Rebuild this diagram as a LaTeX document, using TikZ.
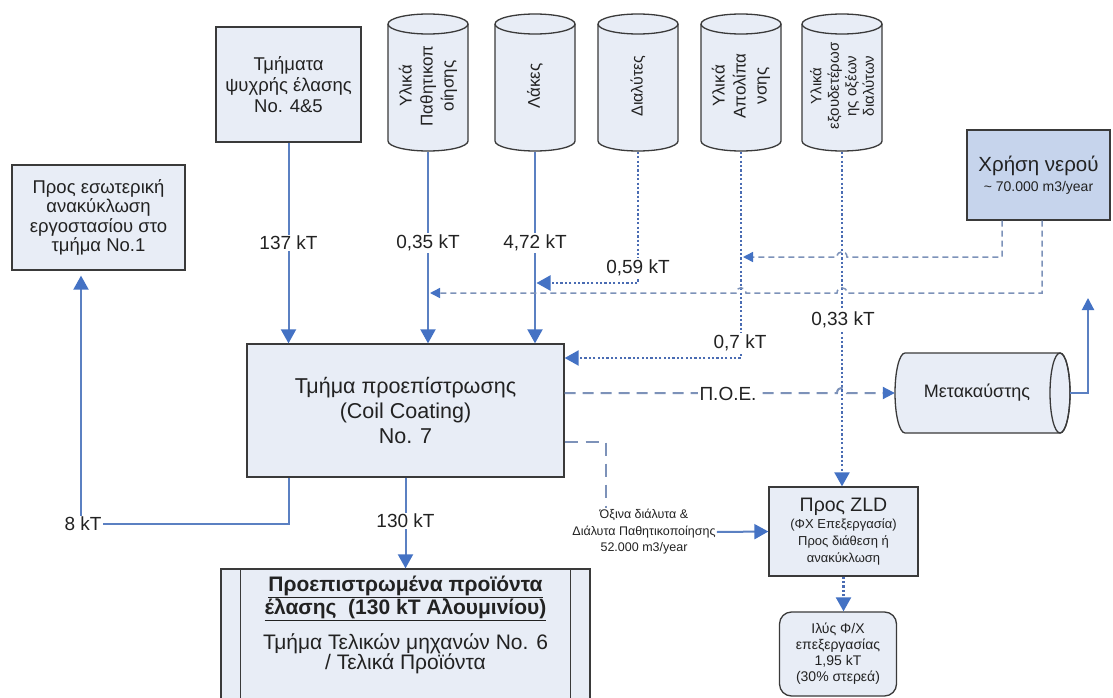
\documentclass[tikz,border=0pt]{standalone}
\usepackage{fontspec}
\setmainfont{Liberation Sans}
\usetikzlibrary{arrows.meta}

\definecolor{boxfill}{HTML}{E8EDF6}
\definecolor{waterfill}{HTML}{C6D4EC}
\definecolor{edge}{HTML}{3A3A3A}
\definecolor{flow}{HTML}{5B80C2}
\definecolor{tipblue}{HTML}{4472C4}
\definecolor{dotflow}{HTML}{4A6CB3}
\definecolor{dashflow}{HTML}{7D92B9}
\definecolor{txt}{HTML}{222222}

\tikzset{
  unit/.style={draw=edge, line width=1.3pt, fill=boxfill, inner sep=0pt, align=center, text=txt},
  flowline/.style={draw=flow, line width=2pt},
  dotline/.style={draw=dotflow, line width=2.2pt, dash pattern=on 2.2pt off 2.2pt},
  dashline/.style={draw=dashflow, line width=1.5pt, dash pattern=on 6pt off 4pt},
  longdash/.style={draw=dashflow, line width=2pt, dash pattern=on 11pt off 7pt},
  bigtip/.style={-{Triangle[length=14pt,width=15pt,color=tipblue]}},
  midtip/.style={-{Triangle[length=12pt,width=12pt,color=tipblue]}},
  smalltip/.style={-{Triangle[length=10pt,width=10pt,color=tipblue]}},
  flowlabel/.style={fill=white, inner sep=1.5pt, text=txt, font=\fontsize{19}{21}\selectfont},
}

% vertical storage tank: name, centre x, label font, rotated label
\newcommand\tankV[4]{%
  \node[minimum width=80pt, minimum height=139pt, inner sep=0pt] (#1) at (#2,82) {};
  \filldraw[draw=edge, line width=1.3pt, fill=boxfill]
    (#2-40,24) -- (#2-40,141) arc[start angle=180, end angle=0, x radius=40, y radius=10]
    -- (#2+40,24) arc[start angle=0, end angle=-180, x radius=40, y radius=10] -- cycle;
  \draw[edge, line width=1.3pt] (#2-40,24) arc[start angle=180, end angle=0, x radius=40, y radius=10];
  \node[rotate=90, align=center, text=txt, font=#3] (#1-t) at (#2,86) {#4};
}

\begin{document}
\begin{tikzpicture}[x=1pt, y=-1pt]
\useasboundingbox (0,0) rectangle (1113,698);
\clip (0,0) rectangle (1113,698);
\fill[white] (0,0) rectangle (1113,698);

% ---- units ----
\node[unit, minimum width=145pt, minimum height=115pt, font=\fontsize{18.5}{21}\selectfont]
  (cold) at (288.5,84.5) {Τμήματα\\ψυχρής έλασης\\No. 4\&5};

\tankV{c1}{428}{\fontsize{17}{21}\selectfont}{Υλικά\\Παθητικοπ\\οίησης}
\tankV{c2}{535}{\fontsize{17}{21}\selectfont}{Λάκες}
\tankV{c3}{638}{\fontsize{16}{21}\selectfont}{Διαλύτες}
\tankV{c4}{741}{\fontsize{17}{21}\selectfont}{Υλικά\\Απολίπα\\νσης}
\tankV{c5}{842}{\fontsize{15}{17.5}\selectfont}{Υλικά\\εξουδετέρωσ\\ης οξέων\\διαλύτων}

\node[unit, minimum width=173pt, minimum height=105pt, font=\fontsize{18.5}{19.5}\selectfont]
  (recyc) at (98.5,217.5) {Προς εσωτερική\\ανακύκλωση\\εργοστασίου στο\\τμήμα No.1};

\node[unit, fill=waterfill, minimum width=143pt, minimum height=90pt, font=\fontsize{14}{20}\selectfont]
  (water) at (1038.5,175) {{\fontsize{20.5}{23}\selectfont Χρήση νερού}\\\textasciitilde\ 70.000 m3/year};

\node[unit, minimum width=317pt, minimum height=133pt, font=\fontsize{21.5}{25}\selectfont]
  (coat) at (405.5,410.5) {Τμήμα προεπίστρωσης\\(Coil Coating)\\No. 7};

% afterburner (horizontal drum)
\node[minimum width=175pt, minimum height=80pt, inner sep=0pt] (burn) at (982.5,393) {};
\filldraw[draw=edge, line width=1.3pt, fill=boxfill]
  (905,353) arc[start angle=-90, end angle=-270, x radius=10, y radius=40]
  -- (1060,433) arc[start angle=90, end angle=-90, x radius=10, y radius=40] -- cycle;
\draw[edge, line width=1.3pt] (1060,393) ellipse[x radius=10, y radius=40];
\node[text=txt, font=\fontsize{18}{20}\selectfont] (burn-t) at (977,393) {Μετακαύστης};

\node[unit, minimum width=149pt, minimum height=89pt, font=\fontsize{13}{17}\selectfont]
  (zld) at (843.5,531.5) {{\fontsize{19.5}{21}\selectfont Προς ZLD}\\(ΦΧ Επεξεργασία)\\Προς διάθεση ή\\ανακύκλωση};

\node[unit, rounded corners=12pt, minimum width=117pt, minimum height=84pt, font=\fontsize{14}{16}\selectfont]
  (ilys) at (838,654) {Ιλύς Φ/Χ\\επεξεργασίας\\1,95 kT\\(30\% στερεά)};

% finished-products block (predefined-process style)
\node[unit, minimum width=369pt, minimum height=151pt] (fin) at (405.5,644.5) {};
\draw[edge, line width=1.3pt] ([xshift=20pt]fin.north west) -- ([xshift=20pt]fin.south west);
\draw[edge, line width=1.3pt] ([xshift=-20pt]fin.north east) -- ([xshift=-20pt]fin.south east);
\node[anchor=north, align=center, text=txt, font=\fontsize{21}{20.5}\selectfont] (fin-t) at (405.5,572)
  {\underline{\textbf{Προεπιστρωμένα προϊόντα}}\\\underline{\textbf{έλασης\ \ (130 kT Αλουμινίου)}}\\[12pt]Τμήμα Τελικών μηχανών No. 6\\/ Τελικά Προϊόντα};

\node[align=center, text=txt, inner sep=1pt, font=\fontsize{12.5}{16.5}\selectfont]
  (acid) at (644,532) {Όξινα διάλυτα \&\\Διάλυτα Παθητικοποίησης\\52.000 m3/year};

% ---- junction points on other flows ----
\coordinate (j059) at (536.5,283);
\coordinate (j035) at (430,293);
\coordinate (j07)  at (743,257);

% ---- solid flows ----
\draw[flowline, bigtip] (cold.south) -- (cold.south |- coat.north);
\draw[flowline, bigtip] (c1.south) -- (c1.south |- coat.north);
\draw[flowline, bigtip] (c2.south) -- (c2.south |- coat.north);
\draw[flowline, bigtip, shorten >=5pt] (coat.south -| 289,0) |- (81,524) -- (recyc.south -| 81,0);
\draw[flowline, bigtip] (coat.south) -- (fin.north);
\draw[flowline, midtip] (burn.east) -- (1088,393) -- (1088,298);
\draw[flowline, bigtip] (acid.east) -- (zld.west);

% ---- dotted chemical feeds ----
\draw[dotline, bigtip] (c3.south) |- (j059);
\draw[dotline, bigtip] (c4.south) |- (coat.east |- 0,358);
\draw[dotline, bigtip] (c5.south) -- (c5.south |- zld.north);
\draw[dotline, bigtip] (zld.south) -- (zld.south |- ilys.north);

% ---- water supply (dashed, hopping over the dotted feeds) ----
\draw[dashline, smalltip] (water.south -| 1002,0) -- (1002,257) -- (847,257)
  .. controls (847,250) and (837,250) .. (837,257) -- (j07);
\draw[dashline, smalltip] (water.south -| 1042,0) -- (1042,293) -- (847,293)
  .. controls (847,286) and (837,286) .. (837,293) -- (746,293)
  .. controls (746,286) and (736,286) .. (736,293) -- (j035);

% ---- off-gas and acid effluent ----
\draw[longdash, midtip] (coat.east |- 0,393) -- (837,393)
  .. controls (837,386) and (847,386) .. (847,393) -- (burn.west);
\draw[longdash, dash pattern=on 13pt off 8pt] (coat.east |- 0,442) -| (606,0 |- acid.north);

% ---- flow labels ----
\node[flowlabel] (l137) at (288.5,243) {137 kT};
\node[flowlabel] (l035) at (428,243) {0,35 kT};
\node[flowlabel] (l472) at (535,243) {4,72 kT};
\node[flowlabel] (l059) at (638,268) {0,59 kT};
\node[flowlabel] (l07)  at (740,343) {0,7 kT};
\node[flowlabel] (l033) at (843,320) {0,33 kT};
\node[flowlabel] (l8)   at (83,524) {8 kT};
\node[flowlabel] (l130) at (405.5,521) {130 kT};
\node[flowlabel] (lpoe) at (728,394) {Π.Ο.Ε.};
\end{tikzpicture}
\end{document}
